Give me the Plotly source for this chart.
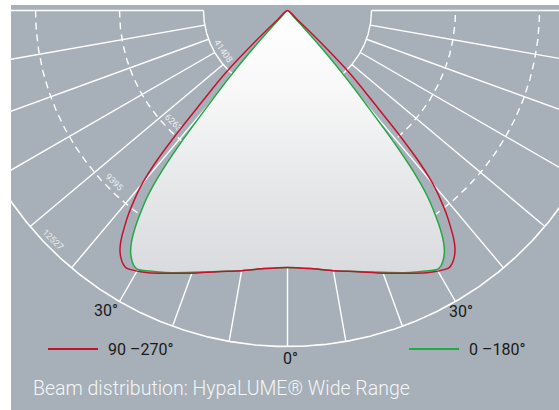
import numpy as np
import plotly.graph_objects as go

# ---------------- data ----------------
# luminous intensity (cd) vs. gamma angle (deg, 0 = straight down)
gamma_red = [0, 5, 10, 15, 20, 25, 28, 30, 32, 33, 34, 35, 36, 37, 38, 39, 40, 41, 42, 43, 44, 45, 46, 47, 48]
i_red = [9580, 9660, 9850, 10080, 10420, 10810, 11070, 11220, 11330, 11260, 11110, 10890, 10550, 10100,
         9620, 9060, 8430, 7460, 6110, 4770, 3910, 3060, 1860, 560, 0]
gamma_green = [0, 5, 10, 15, 20, 25, 28, 30, 31, 32, 33, 34, 35, 36, 37, 38, 39, 40, 41, 42, 43, 44, 45]
i_green = [9580, 9660, 9850, 10070, 10390, 10780, 11000, 11150, 11110, 10960, 10740, 10400, 9920, 9320,
           8650, 7640, 6150, 4470, 3280, 2160, 1120, 340, 0]

series_names = ["90 –270°", "0 –180°"]
series_colors = ["#c8102e", "#22a845"]

ring_values = [3132, 6263, 9395, 12527]
ring_labels = ["41408", "6263", "9395", "12527"]
ring_label_angles = [-57.7, -45.5, -45.3, -45.7]
spoke_angles = [-90, -80, -70, -60, -50, -40, -30, -20, -10, 0, 10, 20, 30, 40, 50, 60, 70, 80, 90]
angle_label_angles = [-30, 0, 30]
angle_labels = ["30°", "0°", "30°"]
title_text = "Beam distribution: HypaLUME® Wide Range"

BG = "#a7b0b8"
FONT = "Roboto, 'Open Sans', sans-serif"

# ---------------- helpers ----------------
def polar_xy(g, r):
    t = np.radians(np.asarray(g, dtype=float))
    r = np.asarray(r, dtype=float)
    return r * np.sin(t), -r * np.cos(t)

def mirrored(g, r):
    g = list(g); r = list(r)
    gg = [-a for a in g[::-1]] + g[1:]
    rr = r[::-1] + r[1:]
    return gg, rr

fig = go.Figure()

# radial spokes
sx, sy = [], []
for a in spoke_angles:
    x, y = polar_xy([a, a], [ring_values[0], ring_values[-1]])
    sx += list(x) + [None]
    sy += list(y) + [None]
fig.add_trace(go.Scatter(x=sx, y=sy, mode="lines", line=dict(color="white", width=1.4),
                         hoverinfo="skip", showlegend=False))

arc = np.linspace(-90, 90, 721)
for k, v in enumerate(ring_values):
    x, y = polar_xy(arc, np.full_like(arc, v))
    dashed = k in (1, 2)
    fig.add_trace(go.Scatter(x=x, y=y, mode="lines",
                             line=dict(color="white", width=1.4 if k < 3 else 1.6,
                                       dash="7px,5px" if dashed else "solid"),
                             hoverinfo="skip", showlegend=False))

# filled beam (0-180 plane)
gg, rr = mirrored(gamma_green, i_green)
gx, gy = polar_xy(gg, rr)
fig.add_trace(go.Scatter(x=gx, y=gy, mode="lines", fill="toself",
                         line=dict(width=0, color="rgba(0,0,0,0)", shape="spline", smoothing=0.6),
                         fillgradient=dict(type="vertical",
                                           colorscale=[[0, "#d9dbde"], [0.35, "#e7e8ea"],
                                                       [0.7, "#f8f8f8"], [1, "#ffffff"]]),
                         hoverinfo="skip", showlegend=False))

# curves
fig.add_trace(go.Scatter(x=gx, y=gy, mode="lines", name=series_names[1],
                         line=dict(color=series_colors[1], width=1.5, shape="spline", smoothing=0.6),
                         showlegend=False))
rg, rv = mirrored(gamma_red, i_red)
rx, ry = polar_xy(rg, rv)
fig.add_trace(go.Scatter(x=rx, y=ry, mode="lines", name=series_names[0],
                         line=dict(color=series_colors[0], width=1.5, shape="spline", smoothing=0.6),
                         showlegend=False))

# ring labels (below traces so the beam hides what it covers)
shapes = []
for v, lab, a in zip(ring_values, ring_labels, ring_label_angles):
    lx, ly = polar_xy([a], [v - 340])
    d = 60
    shapes.append(dict(type="rect", xref="x", yref="y", layer="below",
                       x0=lx[0] - d, x1=lx[0] + d, y0=ly[0] - d, y1=ly[0] + d,
                       line=dict(width=0, color="rgba(0,0,0,0)"), fillcolor="rgba(0,0,0,0)",
                       label=dict(text=lab, textangle=abs(a) - 2, textposition="middle center",
                                  font=dict(family=FONT, size=9, color="#e9edf0"))))

# legend lines (paper coords from pixel layout)
L, T, W, H = 11, 5, 548, 405
def px(xp): return (xp - L) / W
def py(yp): return 1 - (yp - T) / H

for (x0, x1), c in zip([(48, 98), (409, 459)], series_colors):
    shapes.append(dict(type="line", xref="paper", yref="paper", x0=px(x0), x1=px(x1),
                       y0=py(349), y1=py(349), line=dict(color=c, width=2)))

annotations = []
for xl, name in zip([106, 467], series_names):
    annotations.append(dict(xref="paper", yref="paper", x=px(xl), y=py(349), text=name,
                            showarrow=False, xanchor="left", yanchor="middle",
                            font=dict(family=FONT, size=16, color="#1a1a1a")))

shifts = {-30: (-13.5, -9.5), 0: (2.5, -12), 30: (5.5, -10)}
for a, lab in zip(angle_label_angles, angle_labels):
    ax_, ay_ = polar_xy([a], [ring_values[-1]])
    xs, ys = shifts[a]
    annotations.append(dict(x=ax_[0], y=ay_[0], xref="x", yref="y", text=lab, showarrow=False,
                            xanchor="center", yanchor="middle", xshift=xs, yshift=ys,
                            font=dict(family=FONT, size=16, color="#1a1a1a")))

annotations.append(dict(xref="paper", yref="paper", x=px(31), y=py(388), text=title_text,
                        showarrow=False, xanchor="left", yanchor="middle",
                        font=dict(family=FONT, size=19.5, color="#f4f6f7", weight=300)))

k = 12527 / 336.0
cx, cy = 287.5, 10.5
fig.update_layout(
    width=559, height=410,
    margin=dict(l=L, r=0, t=T, b=0, pad=0),
    paper_bgcolor="white", plot_bgcolor=BG,
    xaxis=dict(range=[(L - cx) * k, (559 - cx) * k], visible=False, fixedrange=True),
    yaxis=dict(range=[-(410 - cy) * k, -(T - cy) * k], visible=False, fixedrange=True),
    shapes=shapes, annotations=annotations, showlegend=False,
)

fig.write_html("out.html", config={"displayModeBar": False},
               post_script="document.body.style.margin='0';")
